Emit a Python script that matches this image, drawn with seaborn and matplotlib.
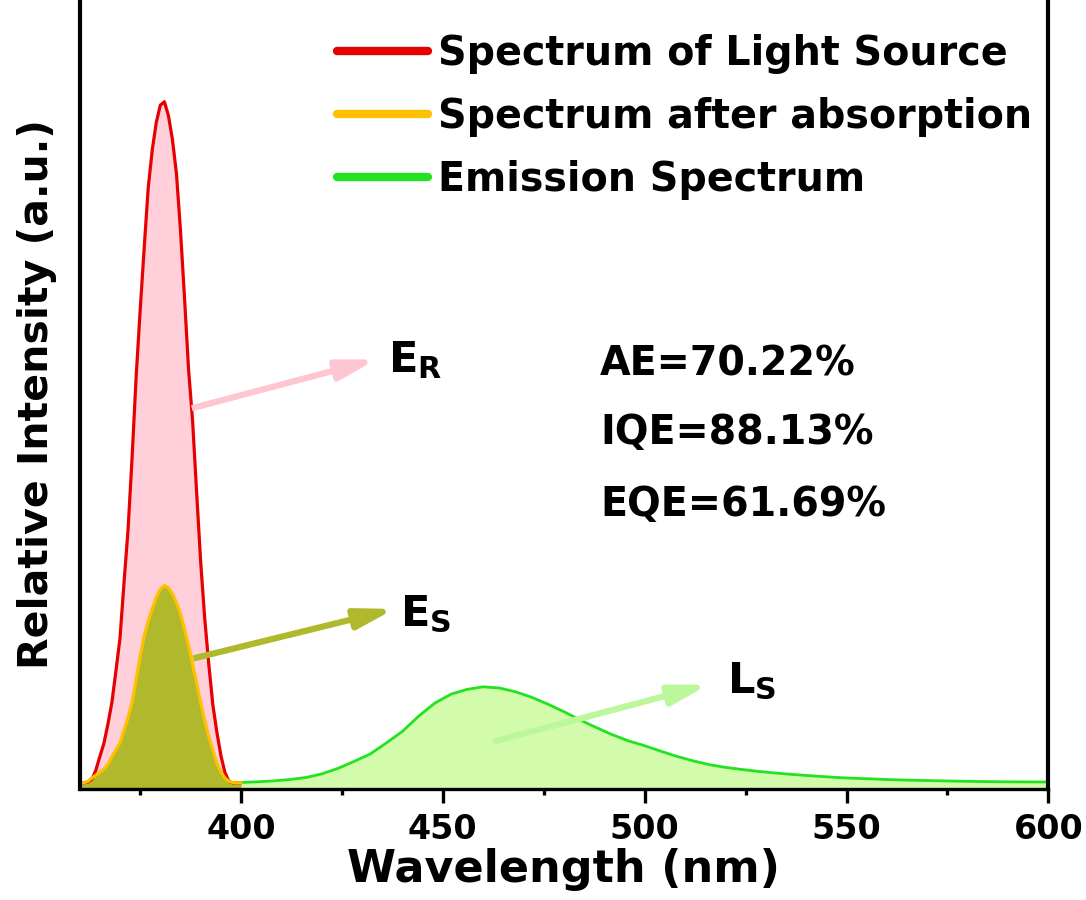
import matplotlib
matplotlib.use("Agg")
import matplotlib.pyplot as plt
import numpy as np
import pandas as pd
import seaborn as sns
from matplotlib.lines import Line2D

# ---------------- data ----------------
wl_source = list(range(360, 401))
light_source = [0.009, 0.009, 0.010, 0.014, 0.027, 0.047, 0.066, 0.094, 0.126, 0.172,
                0.219, 0.300, 0.377, 0.482, 0.599, 0.696, 0.787, 0.875, 0.930, 0.970,
                0.995, 1.000, 0.980, 0.945, 0.895, 0.812, 0.714, 0.610, 0.535, 0.431,
                0.330, 0.248, 0.182, 0.123, 0.083, 0.049, 0.024, 0.011, 0.009, 0.009,
                0.009]
after_absorption = [0.009, 0.009, 0.011, 0.016, 0.020, 0.024, 0.029, 0.036, 0.047, 0.057,
                    0.067, 0.085, 0.104, 0.126, 0.159, 0.193, 0.223, 0.244, 0.262, 0.279,
                    0.291, 0.296, 0.293, 0.284, 0.271, 0.255, 0.232, 0.209, 0.182, 0.154,
                    0.125, 0.100, 0.076, 0.057, 0.037, 0.025, 0.016, 0.011, 0.0095, 0.009,
                    0.009]
wl_emission = list(range(400, 601, 4))
emission = [0.0095, 0.0105, 0.0118, 0.0138, 0.0167, 0.0220, 0.0300, 0.0402, 0.0510, 0.0670,
            0.0840, 0.1060, 0.1250, 0.1380, 0.1450, 0.1487, 0.1470, 0.1415, 0.1335, 0.1235,
            0.1125, 0.1005, 0.0895, 0.0790, 0.0700, 0.0630, 0.0550, 0.0475, 0.0410, 0.0355,
            0.0315, 0.0285, 0.0258, 0.0235, 0.0215, 0.0198, 0.0182, 0.0167, 0.0156, 0.0148,
            0.0138, 0.0131, 0.0126, 0.0121, 0.0116, 0.0112, 0.0109, 0.0106, 0.0104, 0.0103,
            0.0102]

series_labels = ["Spectrum of Light Source", "Spectrum after absorption", "Emission Spectrum"]
stats_text = ["AE=70.22%", "IQE=88.13%", "EQE=61.69%"]
x_ticks = [400, 450, 500, 550, 600]

# ---------------- style ----------------
sns.set_theme(style="ticks")
plt.rcParams["font.family"] = ["DejaVu Sans"]
plt.rcParams["font.weight"] = "bold"
plt.rcParams["mathtext.fontset"] = "dejavusans"
plt.rcParams["text.color"] = "black"
plt.rcParams["axes.labelcolor"] = "black"
plt.rcParams["xtick.color"] = "black"
plt.rcParams["xtick.labelcolor"] = "black"

RED, PINK = "#E60000", "#FFD0DA"
GOLD, OLIVE = "#FFC000", "#B0B82B"
GREEN, LGREEN = "#22E322", "#D3FBAC"

fig = plt.figure(figsize=(10.86, 9.0), dpi=100)
ax = fig.add_axes([0.0733, 0.1233, 0.8920, 0.8767])

df_src = pd.DataFrame({"wl": wl_source, "I": light_source})
df_abs = pd.DataFrame({"wl": wl_source, "I": after_absorption})
df_em = pd.DataFrame({"wl": wl_emission, "I": emission})

ax.fill_between(df_src["wl"], 0, df_src["I"], color=PINK, lw=0, zorder=1)
ax.fill_between(df_abs["wl"], 0, df_abs["I"], color=OLIVE, lw=0, zorder=2)
ax.fill_between(df_em["wl"], 0, df_em["I"], color=LGREEN, lw=0, zorder=1)

sns.lineplot(data=df_src, x="wl", y="I", ax=ax, color=RED, lw=2.3, zorder=3)
sns.lineplot(data=df_abs, x="wl", y="I", ax=ax, color=GOLD, lw=2.3, zorder=4)
sns.lineplot(data=df_em, x="wl", y="I", ax=ax, color=GREEN, lw=2.0, zorder=3)

ax.set_xlim(360, 600)
ax.set_ylim(0, 1.148)
ax.set_xticks(x_ticks)
ax.set_xticks([375, 425, 475, 525, 575], minor=True)
ax.set_yticks([])
ax.tick_params(axis="x", which="major", direction="out", length=10, width=2.4,
               labelsize=24, pad=7, colors="black")
ax.tick_params(axis="x", which="minor", direction="out", length=4, width=2.4, colors="black")
for lab in ax.get_xticklabels():
    lab.set_fontweight("bold")

ax.spines["top"].set_visible(False)
ax.spines["left"].set_linewidth(3.0)
ax.spines["right"].set_linewidth(3.0)
ax.spines["bottom"].set_linewidth(2.4)
for s in ["left", "right", "bottom"]:
    ax.spines[s].set_color("black")
    ax.spines[s].set_zorder(10)

ax.set_xlabel("Wavelength (nm)", fontsize=32, fontweight="bold", labelpad=2, color="black")
ax.set_ylabel("Relative Intensity (a.u.)", fontsize=29.5, fontweight="bold", labelpad=16,
              color="black")

# legend
handles = [Line2D([0], [0], color=c, lw=6, solid_capstyle="round") for c in (RED, GOLD, GREEN)]
leg = ax.legend(handles, series_labels, loc="upper left", bbox_to_anchor=(0.266, 0.957),
                frameon=False, fontsize=28.5, handlelength=2.3, handletextpad=0.25,
                labelspacing=0.58, borderaxespad=0, borderpad=0)
for t in leg.get_texts():
    t.set_fontweight("bold")
    t.set_color("black")

# arrows
def arrow(tail, tip, color):
    ax.annotate("", xy=tip, xytext=tail,
                arrowprops=dict(arrowstyle="-|>,head_length=0.75,head_width=0.2",
                                lw=4.5, color=color, mutation_scale=30,
                                shrinkA=0, shrinkB=0, capstyle="butt"),
                zorder=6)

arrow((387.8, 0.554), (433.5, 0.625), "#FDC6D1")
arrow((388.2, 0.190), (438.0, 0.262), OLIVE)
arrow((462.5, 0.069), (515.8, 0.152), "#BDF79C")

ax.text(436.4, 0.624, r"$\mathbf{E_R}$", fontsize=31, ha="left", va="center", zorder=7)
ax.text(439.5, 0.254, r"$\mathbf{E_S}$", fontsize=31, ha="left", va="center", zorder=7)
ax.text(520.3, 0.157, r"$\mathbf{L_S}$", fontsize=31, ha="left", va="center", zorder=7)

for txt, yv in zip(stats_text, [0.617, 0.5175, 0.413]):
    ax.text(488.9, yv, txt, fontsize=28.5, fontweight="bold", ha="left", va="center", zorder=7)

fig.savefig("out.png", dpi=100)
